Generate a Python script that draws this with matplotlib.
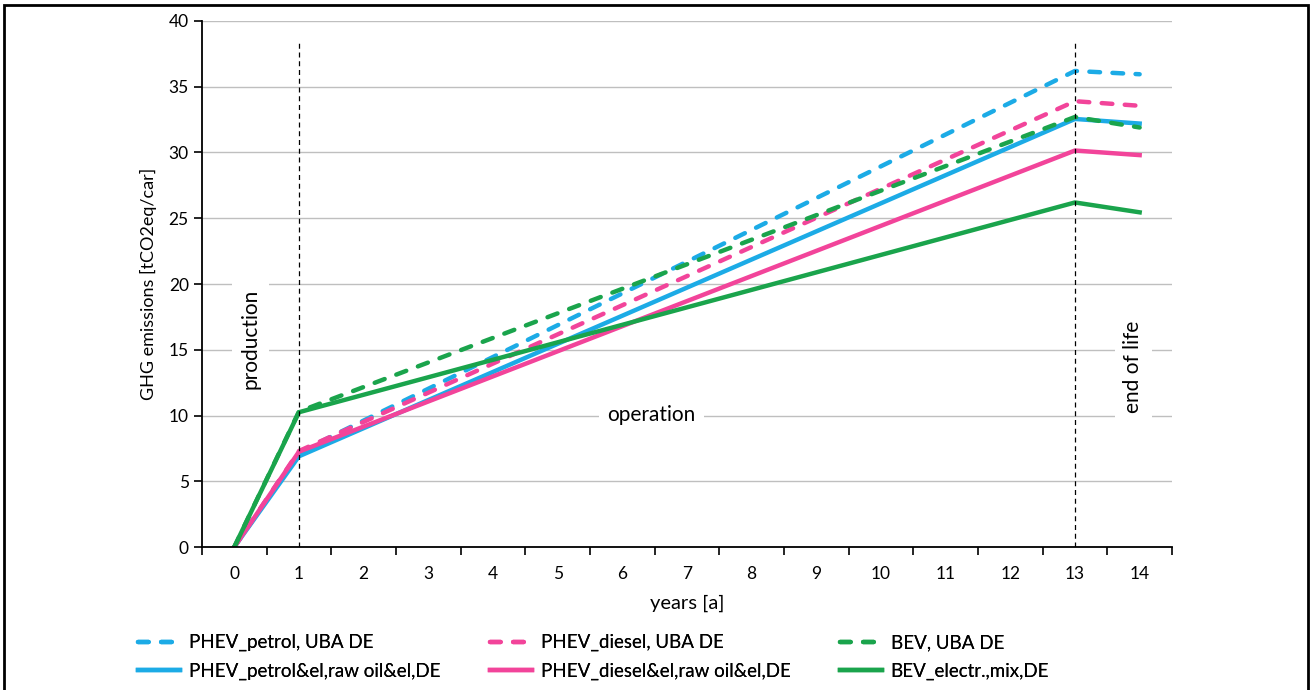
import matplotlib.pyplot as plt
from matplotlib.patches import Rectangle

plt.rcParams['font.family'] = ['Lato', 'DejaVu Sans']

years = [0, 1, 13, 14]
year_labels = [str(i) for i in range(15)]

phev_petrol_uba = [0, 7.2, 36.2, 35.95]
phev_diesel_uba = [0, 7.3, 33.9, 33.55]
bev_uba = [0, 10.3, 32.7, 31.9]
phev_petrol_el = [0, 6.9, 32.55, 32.2]
phev_diesel_el = [0, 7.25, 30.15, 29.8]
bev_mix = [0, 10.25, 26.2, 25.45]

blue = '#1cabe6'
pink = '#f2449a'
green = '#1aa44c'

fig = plt.figure(figsize=(13.13, 6.9), dpi=100)
ax = fig.add_axes([0.1538, 0.2072, 0.7388, 0.7624])

dash = (0, (2.4, 2.8))
kw = dict(lw=3.2, dash_capstyle='round')
h1, = ax.plot(years, phev_petrol_uba, color=blue, linestyle=dash, label='PHEV_petrol, UBA DE', **kw)
h2, = ax.plot(years, phev_petrol_el, color=blue, label='PHEV_petrol&el,raw oil&el,DE', **kw)
h3, = ax.plot(years, phev_diesel_uba, color=pink, linestyle=dash, label='PHEV_diesel, UBA DE', **kw)
h4, = ax.plot(years, phev_diesel_el, color=pink, label='PHEV_diesel&el,raw oil&el,DE', **kw)
h5, = ax.plot(years, bev_uba, color=green, linestyle=dash, label='BEV, UBA DE', **kw)
h6, = ax.plot(years, bev_mix, color=green, label='BEV_electr.,mix,DE', **kw)

# phase separators
for xv in (1, 13):
    ax.plot([xv, xv], [0, 38.4], color='black', lw=0.9, linestyle=(0, (4, 3)), zorder=5)

ax.set_xlim(-0.5, 14.5)
ax.set_ylim(0, 40)
ax.set_yticks(range(0, 41, 5))
ax.set_xticks(range(15))
ax.set_xticklabels(year_labels)
ax.set_xticks([i - 0.5 for i in range(16)], minor=True)
ax.tick_params(axis='x', which='major', length=0, labelsize=12.5, pad=14)
ax.tick_params(axis='x', which='minor', length=6, width=1.2, direction='out')
ax.tick_params(axis='y', length=6, width=1.2, labelsize=12.5, direction='out')
ax.grid(axis='y', color='#bfbfbf', lw=1)
ax.set_axisbelow(True)
for s in ('top', 'right'):
    ax.spines[s].set_visible(False)
for s in ('left', 'bottom'):
    ax.spines[s].set_linewidth(1.3)

ax.set_xlabel('years [a]', fontsize=14.5, labelpad=9)
ax.set_ylabel('GHG emissions [tCO2eq/car]', fontsize=13, labelpad=8)

box = dict(facecolor='white', edgecolor='none', pad=6)
ax.text(0.25, 15.8, 'production', rotation=90, ha='center', va='center', fontsize=15, bbox=box)
ax.text(6.45, 10.05, 'operation', ha='center', va='center', fontsize=15, bbox=box)
ax.text(13.9, 13.7, 'end of life', rotation=90, ha='center', va='center', fontsize=15, bbox=box)

# legend: three columns placed where the reference has them
cols = [([h1, h2], 138), ([h3, h4], 490), ([h5, h6], 840)]
for handles, xpix in cols:
    leg = fig.legend(handles=handles, loc='center left', bbox_to_anchor=(xpix / 1313, 1 - 657 / 690),
                     frameon=False, fontsize=13.5, handlelength=2.25, handletextpad=0.45,
                     labelspacing=0.6, borderpad=0, borderaxespad=0)
    fig.add_artist(leg)

fig.patches.append(Rectangle((0.003, -0.01), 0.993, 1.003, transform=fig.transFigure,
                             fill=False, edgecolor='black', lw=2))

fig.savefig('out.png', dpi=100)
